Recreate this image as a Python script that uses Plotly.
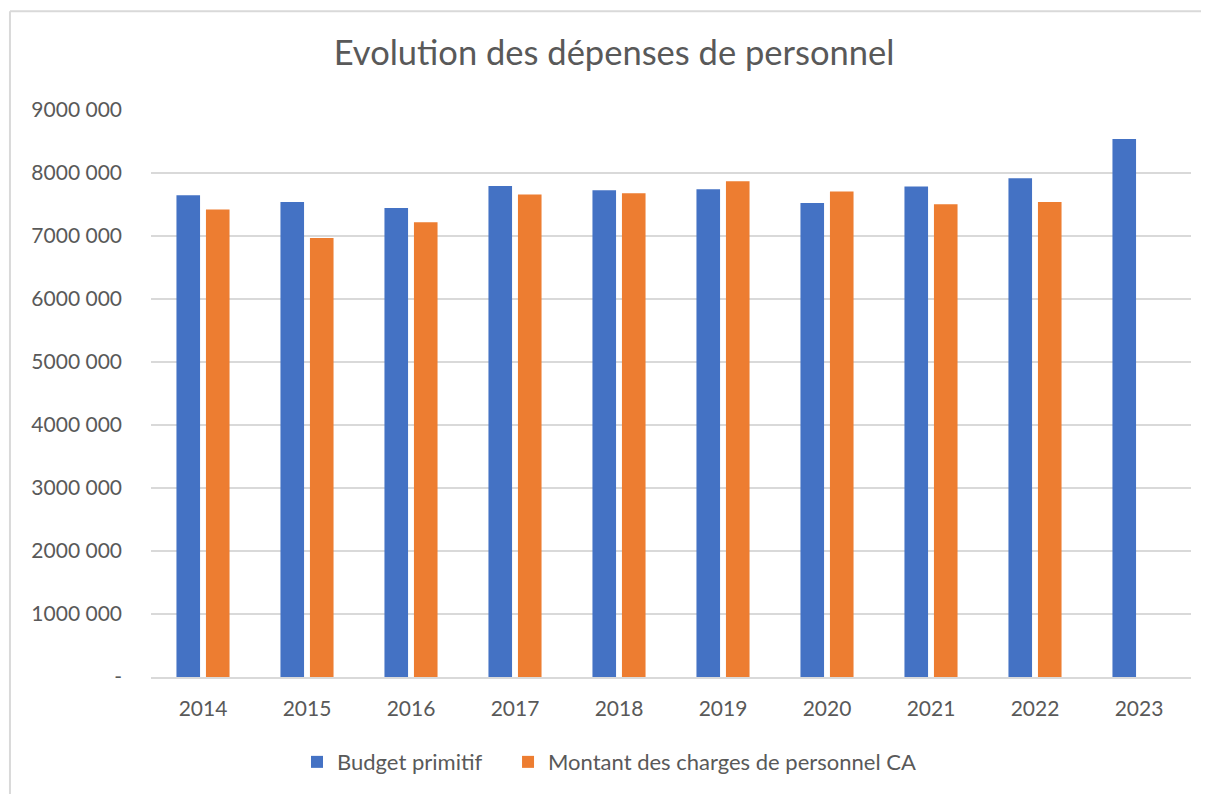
# Evolution des dépenses de personnel - bar chart
import plotly.graph_objects as go

# Data
years = ["2014", "2015", "2016", "2017", "2018", "2019", "2020", "2021", "2022", "2023"]
budget_primitif = [7646000, 7540000, 7444000, 7794000, 7725000, 7741000, 7524000, 7784000, 7916000, 8540000]
charges_ca = [7419000, 6968000, 7217000, 7657000, 7678000, 7868000, 7705000, 7503000, 7540000, None]
tick_vals = [0, 1000000, 2000000, 3000000, 4000000, 5000000, 6000000, 7000000, 8000000, 9000000]
tick_text = ["-", "1000 000", "2000 000", "3000 000", "4000 000", "5000 000",
             "6000 000", "7000 000", "8000 000", "9000 000"]

FONT = "Lato"
GREY = "#595959"

fig = go.Figure()
fig.add_trace(go.Bar(x=years, y=budget_primitif, name="Budget primitif", legend="legend",
                     marker=dict(color="#4472C4", line=dict(width=0))))
fig.add_trace(go.Bar(x=years, y=charges_ca, name="Montant des charges de personnel CA", legend="legend2",
                     marker=dict(color="#ED7D31", line=dict(width=0))))

# Border of the chart area (only top and left edges show)
fig.add_shape(type="line", xref="paper", yref="paper", x0=-0.1356, x1=1.03, y0=1.1743, y1=1.1743,
              line=dict(color="#d9d9d9", width=2))
fig.add_shape(type="line", xref="paper", yref="paper", x0=-0.1356, x1=-0.1356, y0=1.1743, y1=-0.25,
              line=dict(color="#d9d9d9", width=2))

legend_style = dict(orientation="h", y=-0.148, yanchor="middle", xanchor="left",
                    font=dict(size=22, color=GREY), itemwidth=30, bgcolor="rgba(0,0,0,0)")

# page body has an 8px margin, so the figure is a bit smaller
fig.update_layout(
    width=1201, height=786,
    margin=dict(l=143, r=18, t=102, b=116),
    paper_bgcolor="white", plot_bgcolor="white",
    barmode="group", bargap=0.433, bargroupgap=0.2,
    font=dict(family=FONT, color=GREY, size=21),
    title=dict(text="Evolution des dépenses de personnel", x=0.5046, xref="container", xanchor="center",
               y=0.9427, yref="container", yanchor="middle", font=dict(size=34.5, color=GREY)),
    legend=dict(x=0.1404, **legend_style),
    legend2=dict(x=0.3433, **legend_style),
    showlegend=True,
)
fig.update_xaxes(showgrid=False, showline=True, linecolor="#d9d9d9", linewidth=1.5,
                 ticks="", ticklabelstandoff=12, tickfont=dict(size=21, color=GREY))
fig.update_yaxes(range=[0, 9000000], tickvals=tick_vals, ticktext=tick_text,
                 showgrid=True, gridcolor="#d9d9d9", gridwidth=1.5, zeroline=False,
                 showline=False, ticks="", ticklabelstandoff=28, tickfont=dict(size=21, color=GREY))

fig.write_html("out.html")
